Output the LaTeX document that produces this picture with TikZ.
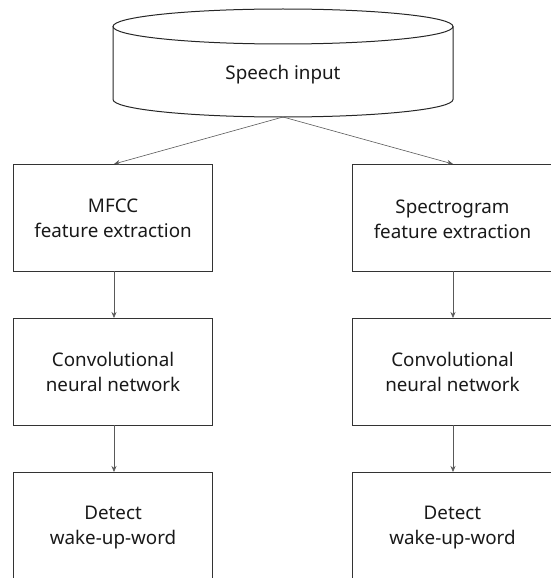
\documentclass[tikz,border=0pt]{standalone}
\usepackage{fontspec}
\setmainfont{Noto Sans}
\usetikzlibrary{arrows.meta}
\begin{document}
\begin{tikzpicture}[x=1pt,y=-1pt,
  box/.style={draw=black!80,line width=1.1pt,minimum width=199pt,minimum height=107pt,anchor=north west,inner sep=0pt},
  rbox/.style={box,minimum width=215pt},
  lbl/.style={align=center,font=\fontsize{18.8}{25}\selectfont,text=black!90},
  conn/.style={draw=black!65,line width=0.6pt,-{Stealth[length=6pt,width=5pt]}}]
\useasboundingbox (0,0) rectangle (550,578);
% cylinder
\draw[black!85,line width=1pt] (113,26.5) -- (113,99.5) arc[start angle=180,end angle=360,x radius=170,y radius=-17.5] -- (453,26.5);
\draw[black!85,line width=1pt] (283,26.5) ellipse[x radius=170,y radius=17.5];
\node[lbl] (input) at (283,74.5) {Speech input};
\coordinate (cylbot) at (283,117);
% boxes
\node[box] (mfcc) at (13,164) {};
\node[lbl] at (mfcc.center) {MFCC\\feature extraction};
\node[rbox] (spec) at (352,164) {};
\node[lbl] at (452.5,219) {Spectrogram\\feature extraction};
\node[box] (cnnl) at (13,318) {};
\node[lbl] at (cnnl.center) {Convolutional\\neural network};
\node[rbox] (cnnr) at (352,318) {};
\node[lbl] at (452.5,372) {Convolutional\\neural network};
\node[box,minimum height=140pt] (detl) at (13,472) {};
\node[lbl] at ([yshift=-56pt]detl.north) {Detect\\wake-up-word};
\node[rbox,minimum height=140pt] (detr) at (352,472) {};
\node[lbl] at (452.5,528) {Detect\\wake-up-word};
% connectors
\draw[conn] (cylbot) -- (114,164);
\draw[conn] (cylbot) -- (453,164);
\draw[conn] (114,271) -- (114,318);
\draw[conn] (453,271) -- (453,318);
\draw[conn] (114,425) -- (114,472);
\draw[conn] (453,425) -- (453,472);
\end{tikzpicture}
\end{document}
